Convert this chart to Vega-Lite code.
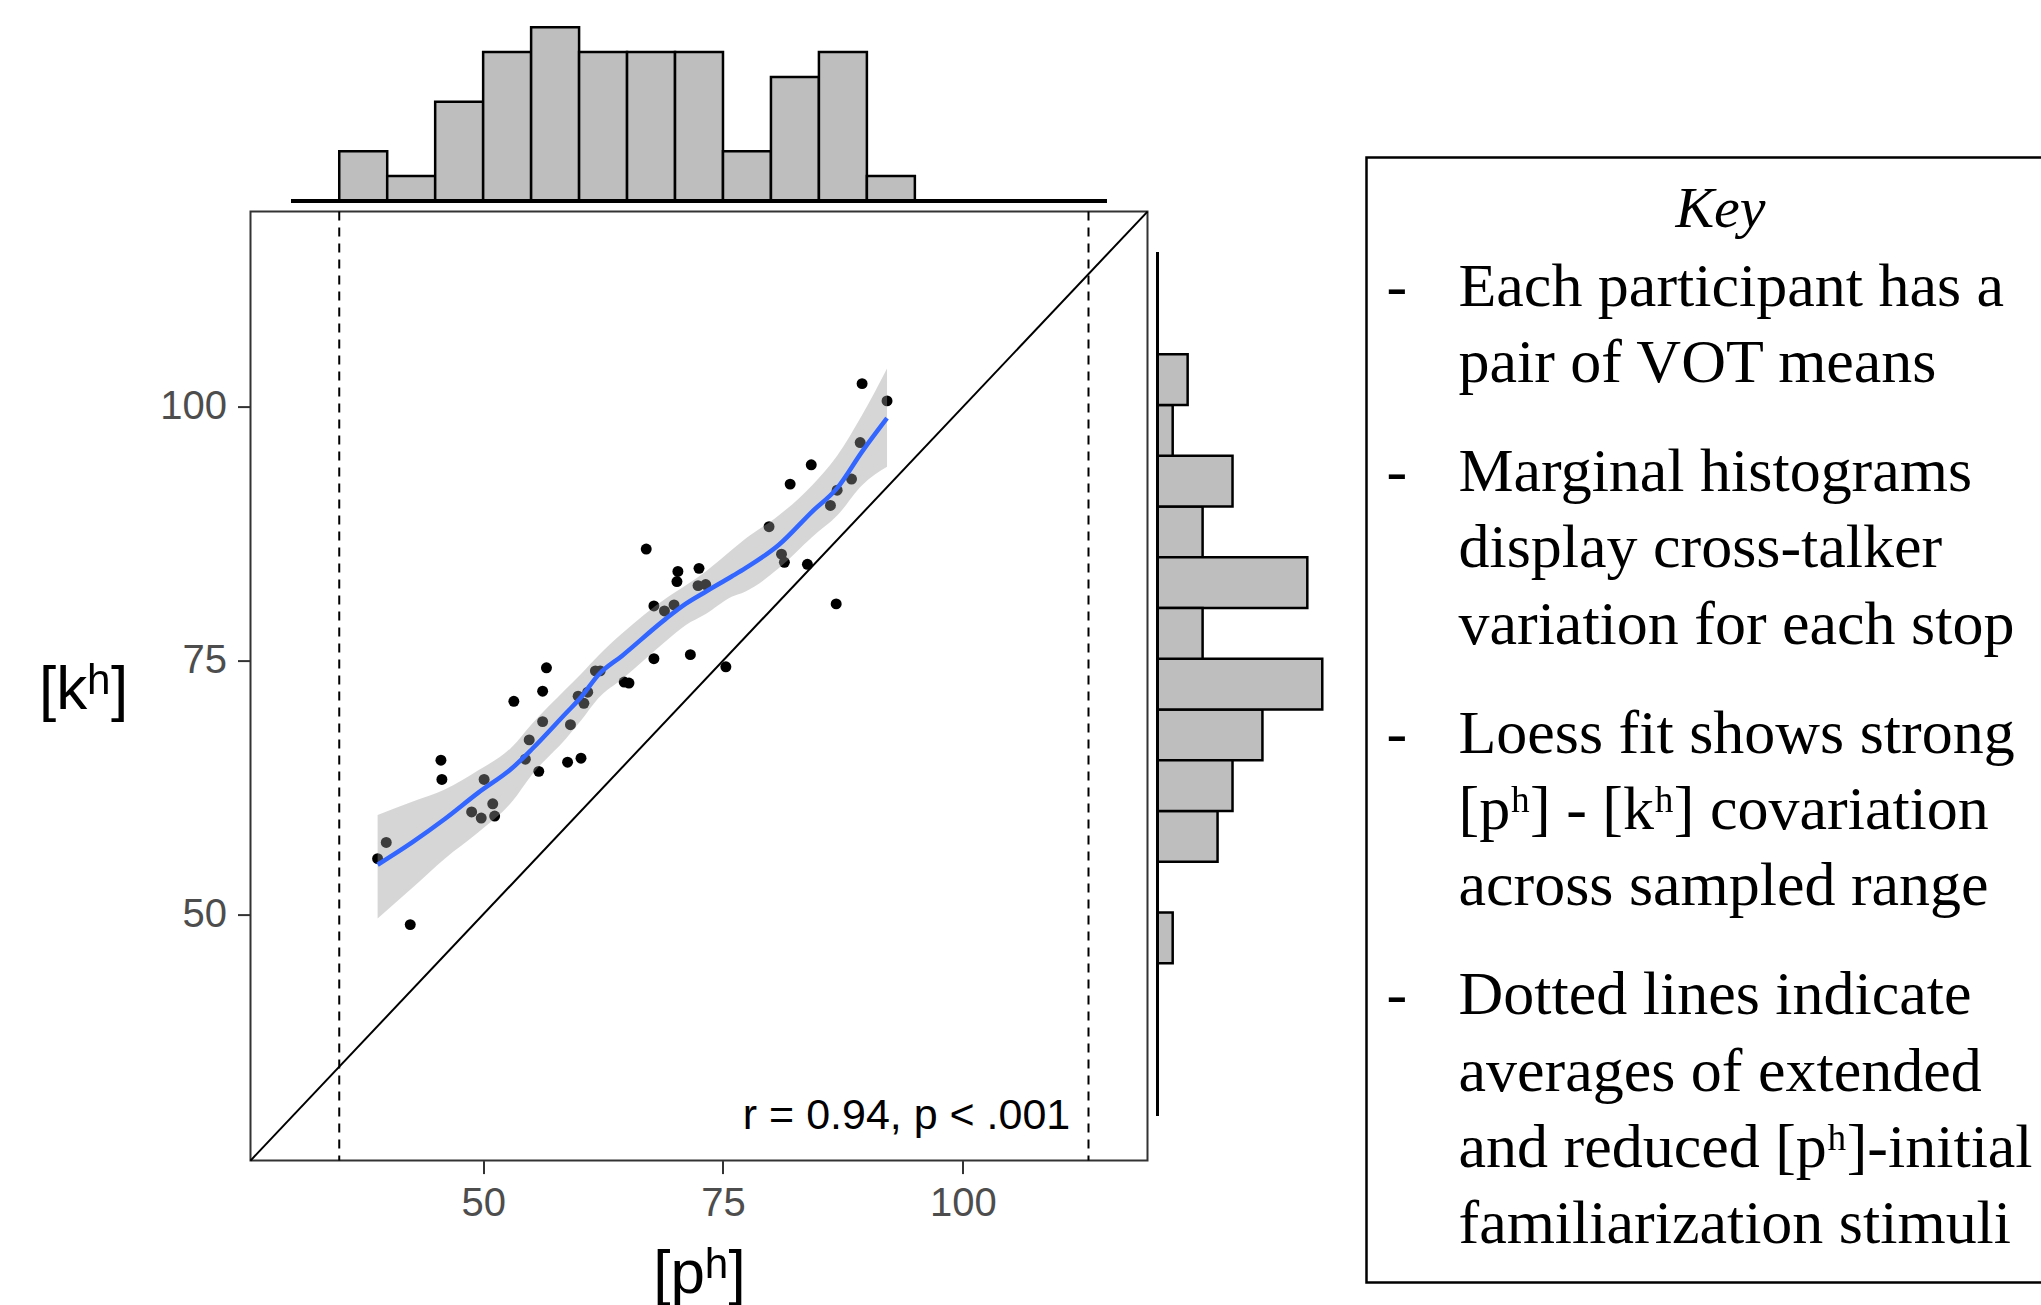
{
  "$schema": "https://vega.github.io/schema/vega-lite/v6.json",
  "padding": {"left": 36.5, "top": 18.6, "right": 0, "bottom": 0},
  "background": "white",
  "config": {
    "view": {"stroke": null},
    "axis": {"grid": false, "domain": false, "tickColor": "#333333", "tickWidth": 2, "tickSize": 13, "labelFont": "Liberation Sans", "labelFontSize": 40, "labelColor": "#4D4D4D", "titleFont": "Liberation Sans", "titleFontSize": 62, "titleFontWeight": "normal", "titleColor": "#000000"}
  },
  "datasets": {
    "talkers": [
      {"ph": 39.0, "kh": 55.5}, {"ph": 39.9, "kh": 57.1}, {"ph": 42.4, "kh": 49.0}, {"ph": 45.6, "kh": 65.2},
      {"ph": 45.7, "kh": 63.3}, {"ph": 48.8, "kh": 60.1}, {"ph": 49.8, "kh": 59.5}, {"ph": 50.1, "kh": 63.3},
      {"ph": 51.0, "kh": 60.9}, {"ph": 51.2, "kh": 59.7}, {"ph": 53.2, "kh": 71.0}, {"ph": 54.4, "kh": 65.3},
      {"ph": 54.8, "kh": 67.2}, {"ph": 55.8, "kh": 64.1}, {"ph": 56.2, "kh": 69.0}, {"ph": 56.2, "kh": 72.0},
      {"ph": 56.6, "kh": 74.3}, {"ph": 58.8, "kh": 65.0}, {"ph": 59.1, "kh": 68.7}, {"ph": 60.2, "kh": 65.4},
      {"ph": 59.9, "kh": 71.5}, {"ph": 60.5, "kh": 70.8}, {"ph": 60.9, "kh": 71.9}, {"ph": 61.7, "kh": 74.0},
      {"ph": 62.2, "kh": 74.0}, {"ph": 64.7, "kh": 72.9}, {"ph": 65.2, "kh": 72.8}, {"ph": 67.0, "kh": 86.0},
      {"ph": 67.8, "kh": 80.4}, {"ph": 67.8, "kh": 75.2}, {"ph": 68.9, "kh": 79.9}, {"ph": 69.9, "kh": 80.5},
      {"ph": 70.2, "kh": 82.8}, {"ph": 70.3, "kh": 83.8}, {"ph": 71.6, "kh": 75.6}, {"ph": 72.4, "kh": 82.4},
      {"ph": 72.5, "kh": 84.1}, {"ph": 73.2, "kh": 82.5}, {"ph": 75.3, "kh": 74.4}, {"ph": 79.8, "kh": 88.2},
      {"ph": 81.1, "kh": 85.5}, {"ph": 81.4, "kh": 84.7}, {"ph": 82.0, "kh": 92.4}, {"ph": 83.8, "kh": 84.5},
      {"ph": 84.2, "kh": 94.3}, {"ph": 86.2, "kh": 90.3}, {"ph": 86.9, "kh": 91.8}, {"ph": 86.8, "kh": 80.6},
      {"ph": 88.4, "kh": 92.9}, {"ph": 89.3, "kh": 96.5}, {"ph": 89.5, "kh": 102.3}, {"ph": 92.1, "kh": 100.6}
    ],
    "fit": [
      {"ph": 39.0, "fit": 54.9, "lo": 49.6, "hi": 59.8}, {"ph": 42.6, "fit": 57.1, "lo": 52.6, "hi": 61.1},
      {"ph": 46.0, "fit": 59.4, "lo": 55.5, "hi": 62.3}, {"ph": 49.5, "fit": 62.0, "lo": 58.1, "hi": 64.2},
      {"ph": 53.0, "fit": 64.4, "lo": 61.1, "hi": 66.5}, {"ph": 55.1, "fit": 66.3, "lo": 63.8, "hi": 68.8},
      {"ph": 58.6, "fit": 69.8, "lo": 67.3, "hi": 72.2}, {"ph": 60.2, "fit": 71.4, "lo": 69.1, "hi": 73.7},
      {"ph": 62.0, "fit": 73.6, "lo": 71.3, "hi": 75.5}, {"ph": 64.5, "fit": 75.5, "lo": 73.2, "hi": 77.7},
      {"ph": 69.0, "fit": 79.1, "lo": 76.9, "hi": 81.1}, {"ph": 71.1, "fit": 80.6, "lo": 78.5, "hi": 82.4},
      {"ph": 73.2, "fit": 81.8, "lo": 79.6, "hi": 83.8}, {"ph": 75.9, "fit": 83.3, "lo": 81.3, "hi": 85.9},
      {"ph": 77.3, "fit": 84.1, "lo": 81.8, "hi": 87.0}, {"ph": 80.8, "fit": 86.4, "lo": 84.1, "hi": 89.3},
      {"ph": 84.3, "fit": 89.7, "lo": 87.2, "hi": 92.3}, {"ph": 86.9, "fit": 92.0, "lo": 89.3, "hi": 95.2},
      {"ph": 89.5, "fit": 95.6, "lo": 92.3, "hi": 99.2}, {"ph": 92.1, "fit": 98.9, "lo": 94.1, "hi": 103.8}
    ],
    "stimuli": [
      {"stimulus": "reduced", "ph": 35.0},
      {"stimulus": "extended", "ph": 113.1}
    ],
    "key": [
      {"item": 0, "line": 0, "text": "Key"},
      {"item": 1, "line": 1, "text": "Each participant has a"},
      {"item": 1, "line": 2, "text": "pair of VOT means"},
      {"item": 2, "line": 3, "text": "Marginal histograms"},
      {"item": 2, "line": 4, "text": "display cross-talker"},
      {"item": 2, "line": 5, "text": "variation for each stop"},
      {"item": 3, "line": 6, "text": "Loess fit shows strong"},
      {"item": 3, "line": 7, "text": "[pʰ] - [kʰ] covariation"},
      {"item": 3, "line": 8, "text": "across sampled range"},
      {"item": 4, "line": 9, "text": "Dotted lines indicate"},
      {"item": 4, "line": 10, "text": "averages of extended"},
      {"item": 4, "line": 11, "text": "and reduced [pʰ]-initial"},
      {"item": 4, "line": 12, "text": "familiarization stimuli"}
    ]
  },
  "resolve": {"scale": {"x": "independent", "y": "independent"}},
  "spacing": 34,
  "hconcat": [
    {
      "resolve": {"scale": {"x": "independent", "y": "independent"}},
      "spacing": 0,
      "hconcat": [
        {
          "resolve": {"scale": {"x": "independent", "y": "independent"}},
          "spacing": 0,
          "vconcat": [
            {
              "width": 897,
              "height": 191,
              "data": {"name": "talkers"},
              "layer": [
                {
                  "transform": [
                    {"bin": {"extent": [30, 115], "step": 5}, "field": "ph", "as": ["ph_bin0", "ph_bin1"]},
                    {"aggregate": [{"op": "count", "as": "ph_n"}], "groupby": ["ph_bin0", "ph_bin1"]}
                  ],
                  "mark": {"type": "rect", "fill": "#BEBEBE", "stroke": "#000000", "strokeWidth": 2.5},
                  "encoding": {
                    "x": {"field": "ph_bin0", "type": "quantitative", "scale": {"domain": [25.75, 119.25], "nice": false, "zero": false}, "axis": null},
                    "x2": {"field": "ph_bin1"},
                    "y": {"field": "ph_n", "type": "quantitative", "scale": {"domain": [-0.35, 7.35], "nice": false, "zero": false}, "axis": null},
                    "y2": {"datum": 0}
                  }
                },
                {
                  "mark": {"type": "rule", "color": "#000000", "strokeWidth": 2.5},
                  "encoding": {
                    "x": {"datum": 30, "type": "quantitative"},
                    "x2": {"datum": 115},
                    "y": {"datum": 0, "type": "quantitative"}
                  }
                }
              ]
            },
            {
              "width": 897,
              "height": 949,
              "view": {"stroke": "#333333", "strokeWidth": 2},
              "layer": [
                {
                  "data": {"values": [{}]},
                  "mark": {"type": "rule", "color": "#000000", "strokeWidth": 2},
                  "encoding": {
                    "x": {"datum": 25.75, "type": "quantitative", "title": "[pʰ]",
                      "scale": {"domain": [25.75, 119.25], "nice": false, "zero": false},
                      "axis": {"values": [50, 75, 100], "title": "[pʰ]", "labelPadding": 10, "titleY": 132.4, "titleBaseline": "alphabetic"}},
                    "y": {"datum": 25.75, "type": "quantitative", "title": "[kʰ]",
                      "scale": {"domain": [25.75, 119.25], "nice": false, "zero": false},
                      "axis": {"values": [50, 75, 100], "title": "[kʰ]", "labelPadding": 11, "titleAngle": 0, "titleAlign": "left", "titleX": -212.1, "titleY": 497.4, "titleBaseline": "alphabetic"}},
                    "x2": {"datum": 119.25},
                    "y2": {"datum": 119.25}
                  }
                },
                {
                  "data": {"name": "stimuli"},
                  "mark": {"type": "rule", "color": "#000000", "strokeWidth": 2, "strokeDash": [9, 7]},
                  "encoding": {
                    "x": {"field": "ph", "type": "quantitative", "title": "[pʰ]"}
                  }
                },
                {
                  "data": {"name": "talkers"},
                  "mark": {"type": "circle", "size": 120, "color": "#000000", "opacity": 1},
                  "encoding": {
                    "x": {"field": "ph", "type": "quantitative", "title": "[pʰ]"},
                    "y": {"field": "kh", "type": "quantitative", "title": "[kʰ]"}
                  }
                },
                {
                  "data": {"name": "fit"},
                  "mark": {"type": "area", "color": "#999999", "opacity": 0.4, "interpolate": "monotone"},
                  "encoding": {
                    "x": {"field": "ph", "type": "quantitative", "title": "[pʰ]"},
                    "y": {"field": "lo", "type": "quantitative", "title": "[kʰ]"},
                    "y2": {"field": "hi"}
                  }
                },
                {
                  "data": {"name": "fit"},
                  "mark": {"type": "line", "color": "#3366FF", "strokeWidth": 4.5, "interpolate": "monotone"},
                  "encoding": {
                    "x": {"field": "ph", "type": "quantitative", "title": "[pʰ]"},
                    "y": {"field": "fit", "type": "quantitative", "title": "[kʰ]"}
                  }
                },
                {
                  "data": {"values": [{"label": "r = 0.94, p < .001"}]},
                  "mark": {"type": "text", "font": "Liberation Sans", "fontSize": 43, "align": "right", "baseline": "alphabetic", "color": "#000000"},
                  "encoding": {
                    "x": {"datum": 111.2, "type": "quantitative", "title": "[pʰ]"},
                    "y": {"datum": 28.9, "type": "quantitative", "title": "[kʰ]"},
                    "text": {"field": "label"}
                  }
                }
              ]
            }
          ]
        },
        {
          "width": 181,
          "height": 1140,
          "data": {"name": "talkers"},
          "layer": [
            {
              "transform": [
                {"bin": {"extent": [30, 115], "step": 5}, "field": "kh", "as": ["kh_bin0", "kh_bin1"]},
                {"aggregate": [{"op": "count", "as": "kh_n"}], "groupby": ["kh_bin0", "kh_bin1"]}
              ],
              "mark": {"type": "rect", "fill": "#BEBEBE", "stroke": "#000000", "strokeWidth": 2.5},
              "encoding": {
                "y": {"field": "kh_bin0", "type": "quantitative", "scale": {"domain": [25.75, 138.07], "nice": false, "zero": false}, "axis": null},
                "y2": {"field": "kh_bin1"},
                "x": {"field": "kh_n", "type": "quantitative", "scale": {"domain": [-0.55, 11.55], "nice": false, "zero": false}, "axis": null},
                "x2": {"datum": 0}
              }
            },
            {
              "mark": {"type": "rule", "color": "#000000", "strokeWidth": 2.5},
              "encoding": {
                "y": {"datum": 30, "type": "quantitative"},
                "y2": {"datum": 115},
                "x": {"datum": 0, "type": "quantitative"}
              }
            }
          ]
        }
      ]
    },
    {
      "spacing": 0,
      "vconcat": [
        {
          "width": 683,
          "height": 136.3,
          "data": {"values": []},
          "mark": "point",
          "encoding": {}
        },
        {
          "width": 683,
          "height": 1125,
          "view": {"stroke": "#000000", "strokeWidth": 2.5},
          "data": {"name": "key"},
          "encoding": {
            "y": {"field": "line", "type": "quantitative", "scale": {"domain": [-0.9436, 13.801], "nice": false, "zero": false, "reverse": true}, "axis": null}
          },
          "layer": [
            {
              "transform": [{"filter": "datum.item == 0"}],
              "mark": {"type": "text", "font": "Liberation Serif", "fontStyle": "italic", "fontSize": 58, "align": "center", "baseline": "alphabetic", "x": 354, "dy": -3, "color": "#000000"},
              "encoding": {"text": {"field": "text"}}
            },
            {
              "transform": [{"filter": "datum.item == 1"}],
              "mark": {"type": "text", "font": "Liberation Serif", "fontSize": 62, "align": "left", "baseline": "alphabetic", "x": 92, "dy": 0, "color": "#000000"},
              "encoding": {"text": {"field": "text"}}
            },
            {
              "transform": [{"filter": "datum.item == 2"}],
              "mark": {"type": "text", "font": "Liberation Serif", "fontSize": 62, "align": "left", "baseline": "alphabetic", "x": 92, "dy": 32.7, "color": "#000000"},
              "encoding": {"text": {"field": "text"}}
            },
            {
              "transform": [{"filter": "datum.item == 3"}],
              "mark": {"type": "text", "font": "Liberation Serif", "fontSize": 62, "align": "left", "baseline": "alphabetic", "x": 92, "dy": 65.4, "color": "#000000"},
              "encoding": {"text": {"field": "text"}}
            },
            {
              "transform": [{"filter": "datum.item == 4"}],
              "mark": {"type": "text", "font": "Liberation Serif", "fontSize": 62, "align": "left", "baseline": "alphabetic", "x": 92, "dy": 98.1, "color": "#000000"},
              "encoding": {"text": {"field": "text"}}
            },
            {
              "transform": [{"filter": "datum.item == 1"}, {"aggregate": [{"op": "min", "field": "line", "as": "line"}], "groupby": ["item"]}],
              "mark": {"type": "text", "font": "Liberation Serif", "fontSize": 62, "align": "left", "baseline": "alphabetic", "x": 20, "dy": 0, "color": "#000000"},
              "encoding": {"text": {"value": "-"}}
            },
            {
              "transform": [{"filter": "datum.item == 2"}, {"aggregate": [{"op": "min", "field": "line", "as": "line"}], "groupby": ["item"]}],
              "mark": {"type": "text", "font": "Liberation Serif", "fontSize": 62, "align": "left", "baseline": "alphabetic", "x": 20, "dy": 32.7, "color": "#000000"},
              "encoding": {"text": {"value": "-"}}
            },
            {
              "transform": [{"filter": "datum.item == 3"}, {"aggregate": [{"op": "min", "field": "line", "as": "line"}], "groupby": ["item"]}],
              "mark": {"type": "text", "font": "Liberation Serif", "fontSize": 62, "align": "left", "baseline": "alphabetic", "x": 20, "dy": 65.4, "color": "#000000"},
              "encoding": {"text": {"value": "-"}}
            },
            {
              "transform": [{"filter": "datum.item == 4"}, {"aggregate": [{"op": "min", "field": "line", "as": "line"}], "groupby": ["item"]}],
              "mark": {"type": "text", "font": "Liberation Serif", "fontSize": 62, "align": "left", "baseline": "alphabetic", "x": 20, "dy": 98.1, "color": "#000000"},
              "encoding": {"text": {"value": "-"}}
            }
          ]
        }
      ]
    }
  ]
}
